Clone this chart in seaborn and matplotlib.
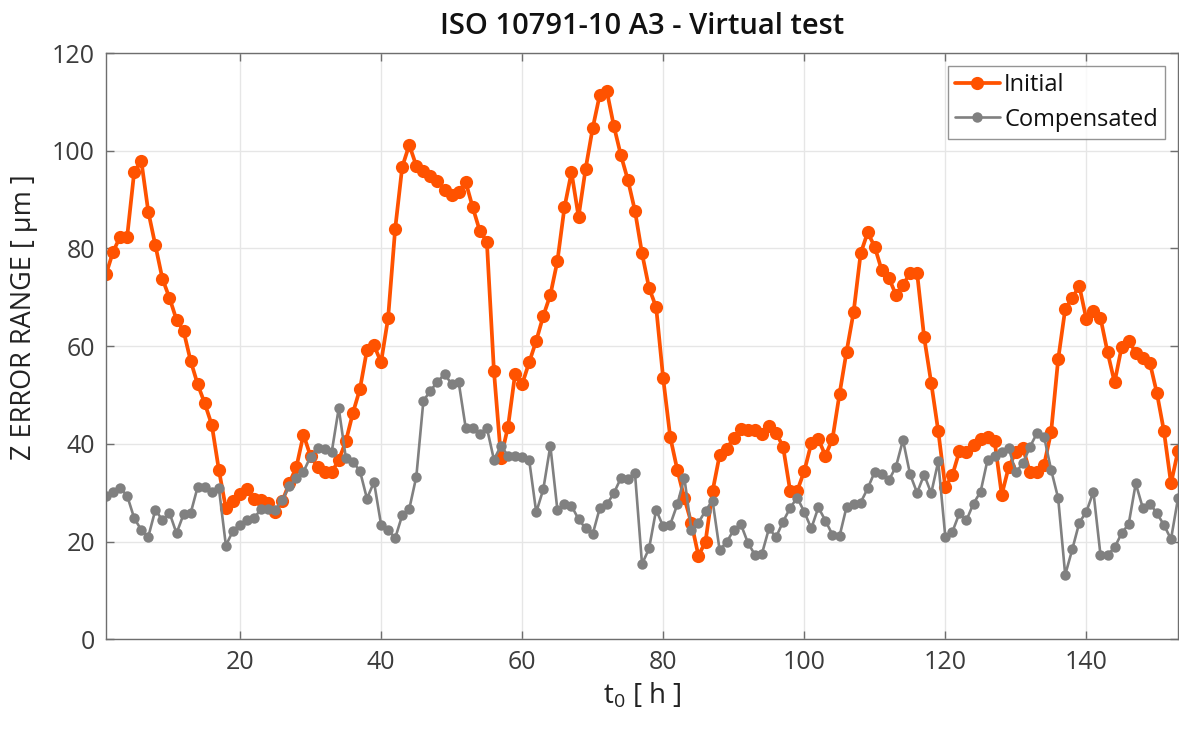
import numpy as np
import pandas as pd
import matplotlib
matplotlib.use("Agg")
import matplotlib.pyplot as plt
import seaborn as sns

hours = list(range(1, 154))

initial = [
    74.7, 79.3, 82.4, 82.4, 95.7, 98.0, 87.5, 80.7, 73.8, 69.9,
    65.4, 63.1, 57.0, 52.2, 48.3, 43.9, 34.7, 26.8, 28.4, 29.7,
    30.7, 28.7, 28.5, 28.0, 26.1, 28.3, 32.0, 35.3, 41.9, 37.5,
    35.3, 34.2, 34.2, 36.7, 40.5, 46.3, 51.2, 59.2, 60.2, 56.7,
    65.8, 84.0, 96.7, 101.2, 96.9, 95.9, 94.9, 93.9, 92.0, 91.0,
    91.6, 93.6, 88.4, 83.6, 81.4, 55.0, 37.2, 43.5, 54.3, 52.2,
    56.7, 61.1, 66.2, 70.5, 77.4, 88.4, 95.6, 86.5, 96.3, 104.6,
    111.4, 112.3, 105.1, 99.1, 94.0, 87.7, 79.0, 71.9, 68.0, 53.4,
    41.4, 34.7, 28.9, 23.8, 17.1, 20.0, 30.3, 37.7, 39.0, 41.2,
    43.0, 42.9, 42.8, 42.0, 43.7, 42.3, 39.4, 30.4, 30.4, 34.4,
    40.1, 41.0, 37.6, 41.0, 50.2, 58.9, 67.0, 79.0, 83.3, 80.3,
    75.5, 74.0, 70.5, 72.5, 75.0, 75.0, 61.8, 52.5, 42.6, 31.1,
    33.6, 38.5, 38.4, 39.7, 41.0, 41.5, 40.5, 29.6, 35.3, 38.3,
    39.2, 34.2, 34.2, 35.7, 42.4, 57.3, 67.6, 69.9, 72.3, 65.5,
    67.2, 65.8, 58.8, 52.6, 59.8, 61.1, 58.7, 57.5, 56.6, 50.4,
    42.6, 31.9, 38.6,
]

compensated = [
    29.3, 30.2, 31.0, 29.4, 24.8, 22.4, 21.0, 26.5, 24.4, 25.9,
    21.7, 25.6, 25.8, 31.2, 31.2, 30.2, 31.0, 19.2, 22.2, 23.5,
    24.4, 24.8, 26.7, 26.7, 26.5, 28.5, 31.4, 33.0, 34.3, 37.4,
    39.1, 39.0, 38.3, 47.3, 37.2, 36.3, 34.5, 28.8, 32.2, 23.5,
    22.4, 20.7, 25.4, 26.7, 33.3, 48.8, 50.9, 52.7, 54.3, 52.3,
    52.7, 43.3, 43.3, 42.0, 43.3, 36.8, 39.6, 37.6, 37.5, 37.3,
    36.7, 26.0, 30.7, 39.6, 26.5, 27.6, 27.3, 24.6, 22.7, 21.5,
    26.8, 27.6, 29.9, 33.0, 32.9, 34.0, 15.4, 18.6, 26.5, 23.1,
    23.5, 27.6, 33.1, 22.4, 23.9, 26.3, 28.4, 18.3, 19.9, 22.4,
    23.6, 19.8, 17.3, 17.5, 22.7, 20.9, 24.1, 26.9, 29.0, 26.1,
    22.7, 27.0, 24.3, 21.4, 21.1, 27.1, 27.7, 28.0, 30.9, 34.3,
    33.8, 32.6, 35.3, 40.8, 33.8, 30.0, 33.7, 29.9, 36.4, 21.0,
    22.0, 25.8, 24.4, 27.8, 30.2, 36.8, 37.5, 38.4, 39.1, 34.2,
    36.0, 39.4, 42.2, 41.5, 34.7, 28.9, 13.2, 18.4, 23.9, 26.1,
    30.2, 17.3, 17.3, 18.8, 21.7, 23.6, 31.9, 26.9, 27.8, 25.8,
    23.4, 20.5, 28.9,
]

series_names = ["Initial", "Compensated"]
x_ticks = [20, 40, 60, 80, 100, 120, 140]
y_ticks = [0, 20, 40, 60, 80, 100, 120]

df_init = pd.DataFrame({"t": hours, "v": initial})
df_comp = pd.DataFrame({"t": hours, "v": compensated})

sns.set_theme(style="white")
plt.rcParams["font.family"] = ["Open Sans", "DejaVu Sans"]
plt.rcParams["mathtext.fontset"] = "custom"
plt.rcParams["mathtext.rm"] = "Open Sans"
plt.rcParams["mathtext.it"] = "Open Sans"

fig = plt.figure(figsize=(11.79, 7.33), dpi=100)
ax = fig.add_axes([0.0899, 0.1278, 0.9093, 0.7998])

orange = "#FF5200"
gray = "#808080"

sns.lineplot(data=df_init, x="t", y="v", ax=ax, color=orange, linewidth=2.7,
             marker="o", markersize=9.5, markeredgewidth=0, label=series_names[0])
sns.lineplot(data=df_comp, x="t", y="v", ax=ax, color=gray, linewidth=1.9,
             marker="o", markersize=7.5, markeredgewidth=0, label=series_names[1])

ax.set_xlim(1, 153)
ax.set_ylim(0, 120)
ax.set_xticks(x_ticks)
ax.set_yticks(y_ticks)
ax.grid(True, color="#e6e6e6", linewidth=1.0)
ax.set_axisbelow(True)

for s in ax.spines.values():
    s.set_color("#6e6e6e")
    s.set_linewidth(1.0)

ax.tick_params(axis="both", which="both", direction="in", length=6, width=1,
               color="#6e6e6e", labelcolor="#3c3c3c", labelsize=18,
               top=True, right=True, bottom=True, left=True, pad=8)

ax.set_xlabel(r"$\mathregular{t_0}$ [ h ]", fontsize=20, color="#222222", labelpad=4)
ax.set_ylabel("Z ERROR RANGE [ µm ]", fontsize=19.5, color="#222222")
ax.yaxis.set_label_coords(-0.063, 0.55)
ax.set_title("ISO 10791-10 A3 - Virtual test", fontsize=21, fontweight="semibold",
             color="#111111", pad=14)

leg = ax.legend(loc="upper right", fontsize=17, frameon=True, fancybox=False,
                edgecolor="#7a7a7a", borderpad=0.3, handlelength=1.9,
                handletextpad=0.2, labelspacing=0.45, borderaxespad=0.55)
leg.get_frame().set_linewidth(1.0)
for t in leg.get_texts():
    t.set_color("#111111")

fig.savefig("out.png", dpi=100)
